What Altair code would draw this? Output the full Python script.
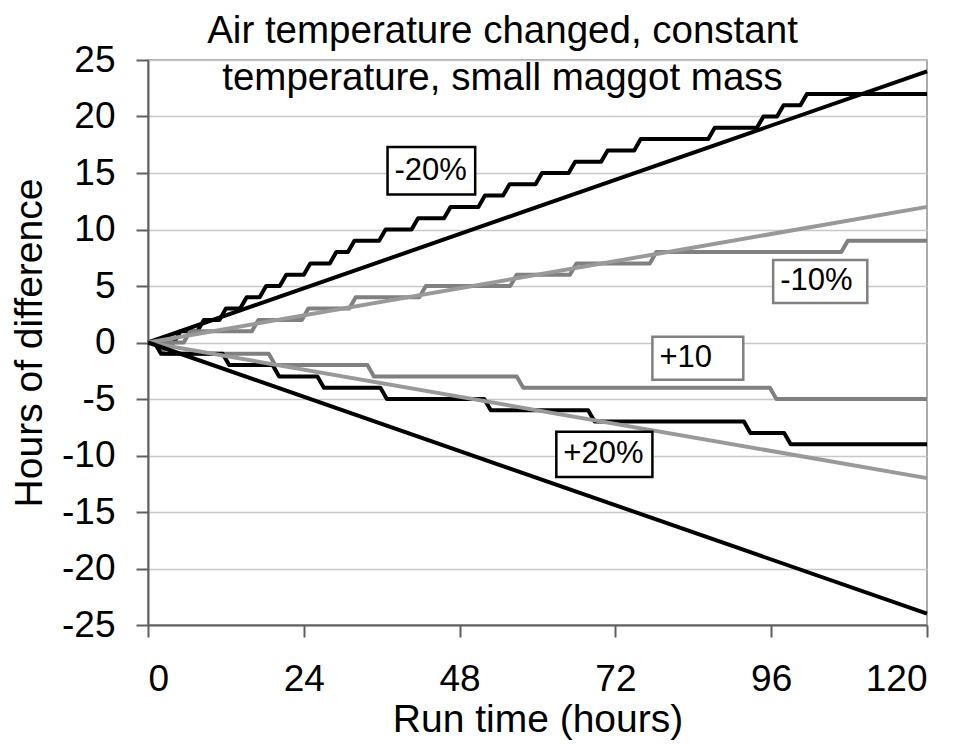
import altair as alt
import pandas as pd

FONT = "Liberation Sans"

# ---- step series: times (h) at which a one-hour rise starts, and the level reached
m20_times = [4.0, 7.6, 11.0, 14.2, 17.2, 20.3, 24.0, 28.0, 30.8, 35.6, 40.6, 45.6,
             50.9, 54.7, 59.7, 64.8, 69.8, 74.9, 86.3, 93.8, 96.9, 100.5]
m20_levels = [1, 2, 3, 4, 5, 6, 7, 8, 9, 10, 11, 12, 13, 14, 15, 16, 17, 18, 19, 20, 21, 22]

m10_times = [5.5, 16.0, 23.7, 31.0, 41.8, 55.8, 65.0, 77.3, 106.8]
m10_levels = [1, 2, 3, 4, 5, 6, 7, 8, 9]

p10_times = [1.5, 18.6, 33.8, 56.8, 95.8]
p10_levels = [-1, -2, -3, -4, -5]

p20_times = [1.0, 11.5, 19.2, 26.1, 35.8, 51.8, 67.8, 91.8, 98.0]
p20_levels = [-1, -2, -3, -4, -5, -6, -7, -8, -9]

# ---- straight (expected) lines: value at 0 h and at 120 h
trend_names = ["-20% trend", "-10% trend", "+10% trend", "+20% trend"]
trend_start = [0, 0, 0, 0]
trend_end = [24, 12, -12, -24]
run_end = 120

# ---- labels
lab_text = ["-20%", "-10%", "+10", "+20%"]
lab_t0 = [36.9, 96.3, 77.7, 62.9]
lab_t1 = [50.4, 110.8, 91.7, 77.7]
lab_top = [17.3, 7.3, 0.5, -7.9]
lab_bot = [13.1, 3.5, -3.3, -11.9]
lab_border = ["black", "gray", "gray", "black"]

x_ticks = [0, 24, 48, 72, 96, 120]
y_ticks = [-25, -20, -15, -10, -5, 0, 5, 10, 15, 20, 25]

rows = []


def add_steps(name, times, levels):
    i = 0
    prev = 0
    rows.append({"series": name, "t": 0, "v": 0, "i": i})
    for ts, lv in zip(times, levels):
        i += 1
        rows.append({"series": name, "t": ts, "v": prev, "i": i})
        i += 1
        rows.append({"series": name, "t": ts + 1.0, "v": lv, "i": i})
        prev = lv
    i += 1
    rows.append({"series": name, "t": run_end, "v": prev, "i": i})


add_steps("-20% step", m20_times, m20_levels)
add_steps("-10% step", m10_times, m10_levels)
add_steps("+10% step", p10_times, p10_levels)
add_steps("+20% step", p20_times, p20_levels)
for nm, a, b in zip(trend_names, trend_start, trend_end):
    rows.append({"series": nm, "t": 0, "v": a, "i": 0})
    rows.append({"series": nm, "t": run_end, "v": b, "i": 1})

df = pd.DataFrame(rows)

labels = pd.DataFrame({
    "text": lab_text, "t0": lab_t0, "t1": lab_t1, "top": lab_top, "bot": lab_bot,
    "border": lab_border,
})
labels["mid"] = (labels["top"] + labels["bot"]) / 2

series_dom = ["-20% step", "-10% step", "+10% step", "+20% step"] + trend_names
series_col = ["#000000", "#808080", "#808080", "#000000", "#000000", "#999999", "#999999", "#000000"]
series_w = [4, 4, 4, 4, 1.6, 1.4, 1.4, 1.6]

xscale = alt.Scale(domain=[0, 120], nice=False)
yscale = alt.Scale(domain=[-25, 25], nice=False)

xax = alt.Axis(values=x_ticks, grid=False, title="Run time (hours)", labelPadding=24,
               titlePadding=3, labelExpr="'' + datum.value")
yax = alt.Axis(values=y_ticks, grid=True, title="Hours of difference", labelPadding=21,
               titlePadding=12, labelExpr="'' + datum.value")

lines = alt.Chart(df).mark_line(strokeJoin="round").encode(
    x=alt.X("t:Q", scale=xscale, axis=xax),
    y=alt.Y("v:Q", scale=yscale, axis=yax),
    color=alt.Color("series:N", scale=alt.Scale(domain=series_dom, range=series_col), legend=None),
    strokeWidth=alt.StrokeWidth("series:N", scale=alt.Scale(domain=series_dom, range=series_w), legend=None),
    detail="series:N",
    order="i:Q",
)

boxes = alt.Chart(labels).mark_rect(fill="white", strokeWidth=2.5).encode(
    x=alt.X("t0:Q", scale=xscale),
    x2="t1:Q",
    y=alt.Y("top:Q", scale=yscale),
    y2="bot:Q",
    stroke=alt.Stroke("border:N", scale=None),
)

texts = alt.Chart(labels).mark_text(align="left", baseline="middle", dx=7, fontSize=31,
                                    font=FONT, color="black").encode(
    x=alt.X("t0:Q", scale=xscale),
    y=alt.Y("mid:Q", scale=yscale),
    text="text:N",
)

chart = alt.layer(lines, boxes, texts).properties(
    width=779,
    height=565,
    autosize=alt.AutoSizeParams(type="none"),
    padding={"left": 148, "top": 60, "right": 36, "bottom": 121},
    title=alt.Title(["Air temperature changed, constant", "temperature, small maggot mass"],
                    fontSize=38.5, font=FONT, fontWeight="normal", color="black",
                    anchor="middle", frame="group", lineHeight=47, offset=-57, dx=-35),
).configure_axis(
    labelFont=FONT, labelFontSize=37, labelColor="black",
    titleFont=FONT, titleFontSize=39, titleColor="black", titleFontWeight="normal",
    domainColor="#606060", domainWidth=2, tickColor="#606060", tickWidth=2, tickSize=12,
    gridColor="#c8c8c8", gridWidth=1.5,
).configure_view(stroke="#909090", strokeWidth=1.5)

chart.save("out.html", embed_options={"renderer": "svg", "actions": False})
